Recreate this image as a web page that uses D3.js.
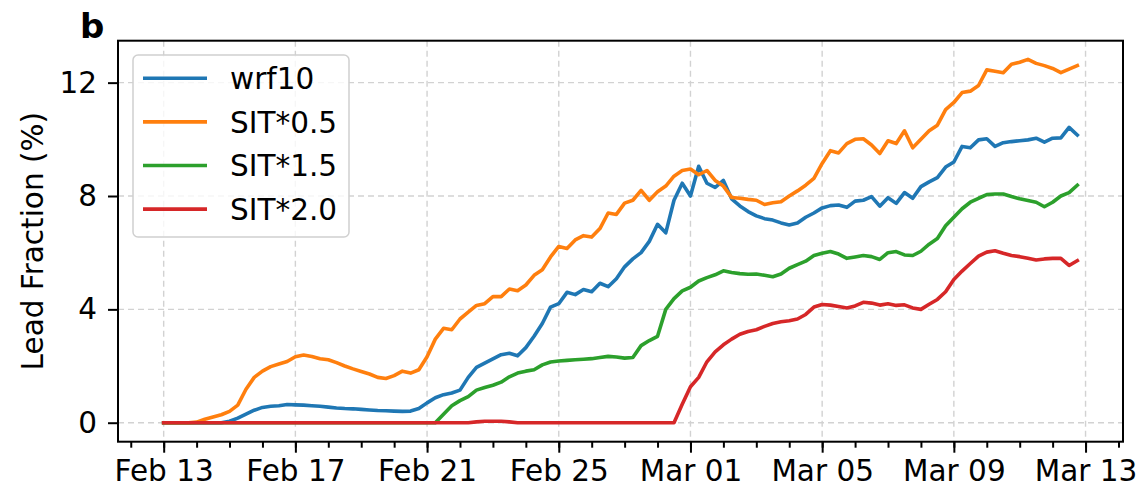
<!DOCTYPE html>
<html>
<head>
<meta charset="utf-8">
<script src="https://cdn.jsdelivr.net/npm/d3@7"></script>
<style>
  body { margin: 0; background: #fff; }
  svg { display: block; }
  text { font-family: "DejaVu Sans", sans-serif; fill: #000; }
</style>
</head>
<body>
<svg id="chart" width="1137" height="489"></svg>
<script>
// Lead fraction (%) for four model runs, sampled every 6 hours from 13 Feb 00:00 UTC
const seriesNames = ["wrf10", "SIT*0.5", "SIT*1.5", "SIT*2.0"];
const seriesColors = ["#1f77b4", "#ff7f0e", "#2ca02c", "#d62728"];
const startTime = "2023-02-13T00:00:00Z";
const stepHours = 6;

const wrf10 = [
  0, 0, 0, 0, 0, 0, 0, 0,
  0.05, 0.16, 0.3, 0.44, 0.54, 0.58, 0.6, 0.64,
  0.63, 0.62, 0.6, 0.58, 0.55, 0.52, 0.5, 0.49,
  0.47, 0.45, 0.43, 0.42, 0.41, 0.4, 0.41, 0.5,
  0.7, 0.88, 0.99, 1.05, 1.15, 1.6, 1.95, 2.1,
  2.25, 2.4, 2.45, 2.36, 2.65, 3.05, 3.5, 4.08,
  4.2, 4.6, 4.52, 4.7, 4.62, 4.92, 4.8, 5.08,
  5.5, 5.78, 6.0, 6.4, 7.0, 6.7, 7.85, 8.45,
  8.0, 9.05, 8.45, 8.3, 8.55, 7.9, 7.65, 7.45,
  7.3, 7.2, 7.15, 7.05, 6.98, 7.05, 7.25, 7.4,
  7.58, 7.66, 7.68, 7.6, 7.82, 7.85, 7.98, 7.64,
  7.94, 7.74, 8.12, 7.92, 8.33, 8.5, 8.65, 9.02,
  9.2, 9.75, 9.7, 9.98, 10.02, 9.75, 9.88, 9.92,
  9.95, 9.98, 10.04, 9.9, 10.04, 10.05, 10.42, 10.15
];

const sit05 = [
  0, 0, 0, 0, 0.02, 0.12, 0.2, 0.28,
  0.4, 0.62, 1.18, 1.6, 1.82, 1.98, 2.07, 2.16,
  2.33, 2.39, 2.34, 2.26, 2.22, 2.12, 2.0, 1.9,
  1.81, 1.72, 1.6, 1.56, 1.66, 1.82, 1.75, 1.87,
  2.33, 2.95, 3.33, 3.28, 3.66, 3.9, 4.14, 4.2,
  4.45, 4.45, 4.72, 4.66, 4.86, 5.2, 5.4, 5.85,
  6.22, 6.15, 6.45, 6.6, 6.55, 6.85, 7.4, 7.35,
  7.75, 7.85, 8.2, 7.85, 8.15, 8.35, 8.7, 8.9,
  8.95, 8.75, 8.9, 8.55, 8.35, 7.95, 7.92, 7.88,
  7.85, 7.7, 7.76, 7.8, 8.0, 8.18, 8.38, 8.62,
  9.15, 9.6, 9.52, 9.85, 10.0, 10.02, 9.8, 9.5,
  9.95, 9.85, 10.3, 9.7, 10.0, 10.3, 10.5, 11.05,
  11.3, 11.65, 11.7, 11.9, 12.45, 12.4, 12.35, 12.65,
  12.72, 12.82, 12.68, 12.6, 12.5, 12.35, 12.48, 12.6
];

const sit15 = [
  0, 0, 0, 0, 0, 0, 0, 0,
  0, 0, 0, 0, 0, 0, 0, 0,
  0, 0, 0, 0, 0, 0, 0, 0,
  0, 0, 0, 0, 0, 0, 0, 0,
  0, 0, 0.3, 0.6, 0.78, 0.92, 1.15, 1.24,
  1.32, 1.43, 1.62, 1.75, 1.82, 1.87, 2.04, 2.14,
  2.18, 2.2, 2.22, 2.24, 2.26, 2.3, 2.34, 2.32,
  2.28, 2.3, 2.72, 2.9, 3.05, 4.0, 4.38, 4.65,
  4.78, 5.0, 5.12, 5.22, 5.36, 5.3, 5.26, 5.24,
  5.25, 5.2, 5.15, 5.25, 5.45, 5.58, 5.7, 5.9,
  5.98, 6.04, 5.95, 5.8, 5.85, 5.9, 5.86, 5.76,
  6.0, 6.04, 5.92, 5.9, 6.05, 6.3, 6.5, 6.95,
  7.25, 7.55, 7.78, 7.92, 8.05, 8.07, 8.07, 7.98,
  7.9, 7.84, 7.78, 7.62, 7.78, 8.0, 8.12, 8.38
];

const sit20 = [
  0, 0, 0, 0, 0, 0, 0, 0,
  0, 0, 0, 0, 0, 0, 0, 0,
  0, 0, 0, 0, 0, 0, 0, 0,
  0, 0, 0, 0, 0, 0, 0, 0,
  0, 0, 0, 0, 0, 0, 0.03, 0.05,
  0.05, 0.05, 0.03, 0, 0, 0, 0, 0,
  0, 0, 0, 0, 0, 0, 0, 0,
  0, 0, 0, 0, 0, 0, 0, 0.65,
  1.27, 1.6, 2.15, 2.5, 2.75, 2.95, 3.12, 3.22,
  3.28, 3.4, 3.5, 3.56, 3.6, 3.66, 3.82, 4.08,
  4.17, 4.15, 4.1, 4.05, 4.12, 4.25, 4.22, 4.15,
  4.2, 4.14, 4.16, 4.05, 4.0, 4.18, 4.35, 4.62,
  5.05, 5.35, 5.62, 5.88, 6.02, 6.07, 5.98, 5.9,
  5.86, 5.8, 5.74, 5.78, 5.8, 5.8, 5.55, 5.72
];

const seriesValues = [wrf10, sit05, sit15, sit20];

const xTickDates = ["2023-02-13", "2023-02-17", "2023-02-21", "2023-02-25",
                    "2023-03-01", "2023-03-05", "2023-03-09", "2023-03-13"];
const xTickLabels = ["Feb 13", "Feb 17", "Feb 21", "Feb 25",
                     "Mar 01", "Mar 05", "Mar 09", "Mar 13"];
const yTicks = [0, 4, 8, 12];
const yTickLabels = ["0", "4", "8", "12"];
const yLabel = "Lead Fraction (%)";
const panelLetter = "b";

// ---- layout ----
const svg = d3.select("#chart");
const plot = { left: 118, right: 1123, top: 40.7, bottom: 441.7 };

const t0 = new Date(startTime).getTime();
const times = wrf10.map((_, i) => new Date(t0 + i * stepHours * 3600e3));
const tFirst = times[0].getTime(), tLast = times[times.length - 1].getTime();
const pad = 0.05 * (tLast - tFirst);

const x = d3.scaleUtc()
  .domain([new Date(tFirst - pad), new Date(tLast + pad)])
  .range([plot.left, plot.right]);
const y = d3.scaleLinear()
  .domain([-0.67, 13.48])
  .range([plot.bottom, plot.top]);

const majorDates = xTickDates.map(s => new Date(s + "T00:00:00Z"));
const minorDates = d3.utcDay.range(x.domain()[0], x.domain()[1]);

// ---- grid ----
const grid = svg.append("g").attr("class", "grid")
  .attr("stroke", "#d2d2d2").attr("stroke-width", 1.4).attr("stroke-dasharray", "6,4");
grid.selectAll("line.v").data(majorDates).join("line")
  .attr("x1", d => x(d)).attr("x2", d => x(d))
  .attr("y1", plot.top).attr("y2", plot.bottom);
grid.selectAll("line.h").data(yTicks).join("line")
  .attr("x1", plot.left).attr("x2", plot.right)
  .attr("y1", d => y(d)).attr("y2", d => y(d));

// ---- series ----
const line = d3.line().x((d, i) => x(times[i])).y(d => y(d));
svg.append("g").selectAll("path").data(seriesValues).join("path")
  .attr("d", d => line(d))
  .attr("fill", "none")
  .attr("stroke", (d, i) => seriesColors[i])
  .attr("stroke-width", 3.6)
  .attr("stroke-linejoin", "round")
  .attr("stroke-linecap", "square");

// ---- axes ----
const fontSize = 29.5;
const xAxis = svg.append("g").attr("transform", `translate(0,${plot.bottom})`)
  .call(d3.axisBottom(x).tickValues(majorDates)
    .tickFormat((d, i) => xTickLabels[i]).tickSize(11).tickPadding(7.5));
const xMinor = svg.append("g").attr("transform", `translate(0,${plot.bottom})`)
  .call(d3.axisBottom(x).tickValues(minorDates).tickFormat("").tickSize(6));
const yAxis = svg.append("g").attr("transform", `translate(${plot.left},0)`)
  .call(d3.axisLeft(y).tickValues(yTicks)
    .tickFormat((d, i) => yTickLabels[i]).tickSize(10).tickPadding(11));

[xAxis, xMinor, yAxis].forEach(g => {
  g.select(".domain").remove();
  g.selectAll(".tick line").attr("stroke", "#000").attr("stroke-width", 2);
  g.selectAll(".tick text").attr("font-size", fontSize)
    .attr("font-family", '"DejaVu Sans", sans-serif').attr("fill", "#000");
});

// frame
svg.append("rect")
  .attr("x", plot.left).attr("y", plot.top)
  .attr("width", plot.right - plot.left).attr("height", plot.bottom - plot.top)
  .attr("fill", "none").attr("stroke", "#000").attr("stroke-width", 2);

// y label
svg.append("text")
  .attr("transform", `translate(42.5,${(plot.top + plot.bottom) / 2}) rotate(-90)`)
  .attr("text-anchor", "middle")
  .attr("font-size", 29.5)
  .text(yLabel);

// panel letter
svg.append("text")
  .attr("x", 80).attr("y", 38)
  .attr("font-size", 34).attr("font-weight", "bold")
  .text(panelLetter);

// ---- legend ----
const legend = svg.append("g");
legend.append("rect")
  .attr("x", 133).attr("y", 55).attr("width", 216).attr("height", 182)
  .attr("rx", 5).attr("fill", "#fff").attr("fill-opacity", 0.8)
  .attr("stroke", "#d0d0d0").attr("stroke-width", 1.5);
const rows = legend.selectAll("g.item").data(seriesNames).join("g")
  .attr("transform", (d, i) => `translate(0,${78.3 + i * 43.6})`);
rows.append("line")
  .attr("x1", 143).attr("x2", 207).attr("y1", 0).attr("y2", 0)
  .attr("stroke", (d, i) => seriesColors[i]).attr("stroke-width", 3.6);
rows.append("text")
  .attr("x", 230).attr("dy", "0.36em")
  .attr("font-size", fontSize)
  .text(d => d);
</script>
</body>
</html>
